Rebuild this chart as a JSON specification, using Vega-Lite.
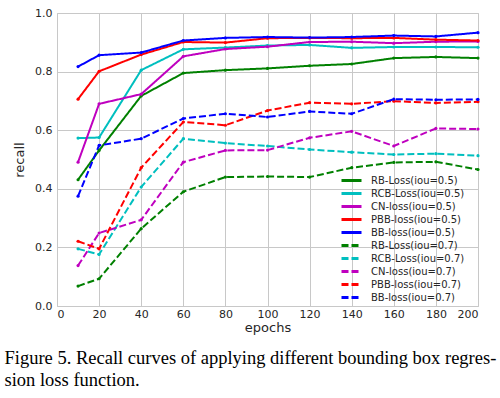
{
  "$schema": "https://vega.github.io/schema/vega-lite/v6.json",
  "width": 421,
  "height": 293,
  "autosize": "none",
  "padding": {"left": 57, "top": 13, "right": 22, "bottom": 92},
  "background": "white",
  "config": {
    "view": {"stroke": "#c8c8c8", "strokeWidth": 1},
    "font": "DejaVu Sans"
  },
  "title": {
    "text": ["Figure 5. Recall curves of applying different bounding box regres-", "sion loss function."],
    "orient": "bottom",
    "anchor": "start",
    "frame": "bounds",
    "baseline": "alphabetic",
    "font": "Liberation Serif",
    "fontSize": 18.5,
    "fontWeight": "normal",
    "color": "#000000",
    "lineHeight": 21.7,
    "offset": 30,
    "dx": -9
  },
  "data": {
    "values": [
      {"epoch": 10, "recall": 0.431, "series": "RB-Loss(iou=0.5)"},
      {"epoch": 20, "recall": 0.531, "series": "RB-Loss(iou=0.5)"},
      {"epoch": 40, "recall": 0.717, "series": "RB-Loss(iou=0.5)"},
      {"epoch": 60, "recall": 0.795, "series": "RB-Loss(iou=0.5)"},
      {"epoch": 80, "recall": 0.805, "series": "RB-Loss(iou=0.5)"},
      {"epoch": 100, "recall": 0.811, "series": "RB-Loss(iou=0.5)"},
      {"epoch": 120, "recall": 0.82, "series": "RB-Loss(iou=0.5)"},
      {"epoch": 140, "recall": 0.826, "series": "RB-Loss(iou=0.5)"},
      {"epoch": 160, "recall": 0.846, "series": "RB-Loss(iou=0.5)"},
      {"epoch": 180, "recall": 0.85, "series": "RB-Loss(iou=0.5)"},
      {"epoch": 200, "recall": 0.846, "series": "RB-Loss(iou=0.5)"},

      {"epoch": 10, "recall": 0.573, "series": "RCB-Loss(iou=0.5)"},
      {"epoch": 20, "recall": 0.575, "series": "RCB-Loss(iou=0.5)"},
      {"epoch": 40, "recall": 0.805, "series": "RCB-Loss(iou=0.5)"},
      {"epoch": 60, "recall": 0.876, "series": "RCB-Loss(iou=0.5)"},
      {"epoch": 80, "recall": 0.882, "series": "RCB-Loss(iou=0.5)"},
      {"epoch": 100, "recall": 0.889, "series": "RCB-Loss(iou=0.5)"},
      {"epoch": 120, "recall": 0.891, "series": "RCB-Loss(iou=0.5)"},
      {"epoch": 140, "recall": 0.881, "series": "RCB-Loss(iou=0.5)"},
      {"epoch": 160, "recall": 0.884, "series": "RCB-Loss(iou=0.5)"},
      {"epoch": 180, "recall": 0.884, "series": "RCB-Loss(iou=0.5)"},
      {"epoch": 200, "recall": 0.883, "series": "RCB-Loss(iou=0.5)"},

      {"epoch": 10, "recall": 0.491, "series": "CN-loss(iou=0.5)"},
      {"epoch": 20, "recall": 0.69, "series": "CN-loss(iou=0.5)"},
      {"epoch": 40, "recall": 0.723, "series": "CN-loss(iou=0.5)"},
      {"epoch": 60, "recall": 0.852, "series": "CN-loss(iou=0.5)"},
      {"epoch": 80, "recall": 0.877, "series": "CN-loss(iou=0.5)"},
      {"epoch": 100, "recall": 0.885, "series": "CN-loss(iou=0.5)"},
      {"epoch": 120, "recall": 0.901, "series": "CN-loss(iou=0.5)"},
      {"epoch": 140, "recall": 0.902, "series": "CN-loss(iou=0.5)"},
      {"epoch": 160, "recall": 0.897, "series": "CN-loss(iou=0.5)"},
      {"epoch": 180, "recall": 0.902, "series": "CN-loss(iou=0.5)"},
      {"epoch": 200, "recall": 0.903, "series": "CN-loss(iou=0.5)"},

      {"epoch": 10, "recall": 0.706, "series": "PBB-loss(iou=0.5)"},
      {"epoch": 20, "recall": 0.801, "series": "PBB-loss(iou=0.5)"},
      {"epoch": 40, "recall": 0.858, "series": "PBB-loss(iou=0.5)"},
      {"epoch": 60, "recall": 0.901, "series": "PBB-loss(iou=0.5)"},
      {"epoch": 80, "recall": 0.899, "series": "PBB-loss(iou=0.5)"},
      {"epoch": 100, "recall": 0.914, "series": "PBB-loss(iou=0.5)"},
      {"epoch": 120, "recall": 0.915, "series": "PBB-loss(iou=0.5)"},
      {"epoch": 140, "recall": 0.914, "series": "PBB-loss(iou=0.5)"},
      {"epoch": 160, "recall": 0.915, "series": "PBB-loss(iou=0.5)"},
      {"epoch": 180, "recall": 0.909, "series": "PBB-loss(iou=0.5)"},
      {"epoch": 200, "recall": 0.906, "series": "PBB-loss(iou=0.5)"},

      {"epoch": 10, "recall": 0.817, "series": "BB-loss(iou=0.5)"},
      {"epoch": 20, "recall": 0.856, "series": "BB-loss(iou=0.5)"},
      {"epoch": 40, "recall": 0.865, "series": "BB-loss(iou=0.5)"},
      {"epoch": 60, "recall": 0.906, "series": "BB-loss(iou=0.5)"},
      {"epoch": 80, "recall": 0.915, "series": "BB-loss(iou=0.5)"},
      {"epoch": 100, "recall": 0.918, "series": "BB-loss(iou=0.5)"},
      {"epoch": 120, "recall": 0.916, "series": "BB-loss(iou=0.5)"},
      {"epoch": 140, "recall": 0.918, "series": "BB-loss(iou=0.5)"},
      {"epoch": 160, "recall": 0.923, "series": "BB-loss(iou=0.5)"},
      {"epoch": 180, "recall": 0.92, "series": "BB-loss(iou=0.5)"},
      {"epoch": 200, "recall": 0.933, "series": "BB-loss(iou=0.5)"},

      {"epoch": 10, "recall": 0.068, "series": "RB-Loss(iou=0.7)"},
      {"epoch": 20, "recall": 0.093, "series": "RB-Loss(iou=0.7)"},
      {"epoch": 40, "recall": 0.264, "series": "RB-Loss(iou=0.7)"},
      {"epoch": 60, "recall": 0.39, "series": "RB-Loss(iou=0.7)"},
      {"epoch": 80, "recall": 0.44, "series": "RB-Loss(iou=0.7)"},
      {"epoch": 100, "recall": 0.442, "series": "RB-Loss(iou=0.7)"},
      {"epoch": 120, "recall": 0.44, "series": "RB-Loss(iou=0.7)"},
      {"epoch": 140, "recall": 0.472, "series": "RB-Loss(iou=0.7)"},
      {"epoch": 160, "recall": 0.49, "series": "RB-Loss(iou=0.7)"},
      {"epoch": 180, "recall": 0.492, "series": "RB-Loss(iou=0.7)"},
      {"epoch": 200, "recall": 0.466, "series": "RB-Loss(iou=0.7)"},

      {"epoch": 10, "recall": 0.195, "series": "RCB-Loss(iou=0.7)"},
      {"epoch": 20, "recall": 0.176, "series": "RCB-Loss(iou=0.7)"},
      {"epoch": 40, "recall": 0.406, "series": "RCB-Loss(iou=0.7)"},
      {"epoch": 60, "recall": 0.571, "series": "RCB-Loss(iou=0.7)"},
      {"epoch": 80, "recall": 0.556, "series": "RCB-Loss(iou=0.7)"},
      {"epoch": 100, "recall": 0.546, "series": "RCB-Loss(iou=0.7)"},
      {"epoch": 120, "recall": 0.534, "series": "RCB-Loss(iou=0.7)"},
      {"epoch": 140, "recall": 0.525, "series": "RCB-Loss(iou=0.7)"},
      {"epoch": 160, "recall": 0.517, "series": "RCB-Loss(iou=0.7)"},
      {"epoch": 180, "recall": 0.52, "series": "RCB-Loss(iou=0.7)"},
      {"epoch": 200, "recall": 0.513, "series": "RCB-Loss(iou=0.7)"},

      {"epoch": 10, "recall": 0.138, "series": "CN-loss(iou=0.7)"},
      {"epoch": 20, "recall": 0.249, "series": "CN-loss(iou=0.7)"},
      {"epoch": 40, "recall": 0.294, "series": "CN-loss(iou=0.7)"},
      {"epoch": 60, "recall": 0.491, "series": "CN-loss(iou=0.7)"},
      {"epoch": 80, "recall": 0.531, "series": "CN-loss(iou=0.7)"},
      {"epoch": 100, "recall": 0.532, "series": "CN-loss(iou=0.7)"},
      {"epoch": 120, "recall": 0.574, "series": "CN-loss(iou=0.7)"},
      {"epoch": 140, "recall": 0.596, "series": "CN-loss(iou=0.7)"},
      {"epoch": 160, "recall": 0.546, "series": "CN-loss(iou=0.7)"},
      {"epoch": 180, "recall": 0.606, "series": "CN-loss(iou=0.7)"},
      {"epoch": 200, "recall": 0.604, "series": "CN-loss(iou=0.7)"},

      {"epoch": 10, "recall": 0.221, "series": "PBB-loss(iou=0.7)"},
      {"epoch": 20, "recall": 0.195, "series": "PBB-loss(iou=0.7)"},
      {"epoch": 40, "recall": 0.472, "series": "PBB-loss(iou=0.7)"},
      {"epoch": 60, "recall": 0.628, "series": "PBB-loss(iou=0.7)"},
      {"epoch": 80, "recall": 0.617, "series": "PBB-loss(iou=0.7)"},
      {"epoch": 100, "recall": 0.667, "series": "PBB-loss(iou=0.7)"},
      {"epoch": 120, "recall": 0.694, "series": "PBB-loss(iou=0.7)"},
      {"epoch": 140, "recall": 0.69, "series": "PBB-loss(iou=0.7)"},
      {"epoch": 160, "recall": 0.699, "series": "PBB-loss(iou=0.7)"},
      {"epoch": 180, "recall": 0.693, "series": "PBB-loss(iou=0.7)"},
      {"epoch": 200, "recall": 0.697, "series": "PBB-loss(iou=0.7)"},

      {"epoch": 10, "recall": 0.375, "series": "BB-loss(iou=0.7)"},
      {"epoch": 20, "recall": 0.548, "series": "BB-loss(iou=0.7)"},
      {"epoch": 40, "recall": 0.571, "series": "BB-loss(iou=0.7)"},
      {"epoch": 60, "recall": 0.64, "series": "BB-loss(iou=0.7)"},
      {"epoch": 80, "recall": 0.656, "series": "BB-loss(iou=0.7)"},
      {"epoch": 100, "recall": 0.645, "series": "BB-loss(iou=0.7)"},
      {"epoch": 120, "recall": 0.664, "series": "BB-loss(iou=0.7)"},
      {"epoch": 140, "recall": 0.656, "series": "BB-loss(iou=0.7)"},
      {"epoch": 160, "recall": 0.706, "series": "BB-loss(iou=0.7)"},
      {"epoch": 180, "recall": 0.704, "series": "BB-loss(iou=0.7)"},
      {"epoch": 200, "recall": 0.705, "series": "BB-loss(iou=0.7)"}
    ]
  },
  "mark": {"type": "line", "strokeWidth": 2, "point": {"filled": true, "size": 10}},
  "encoding": {
    "x": {
      "field": "epoch", "type": "quantitative",
      "scale": {"domain": [0, 200], "nice": false},
      "axis": {
        "values": [0, 20, 40, 60, 80, 100, 120, 140, 160, 180, 200],
        "title": "epochs", "titleFontSize": 13, "titleFontWeight": "normal", "titleColor": "#262626", "titlePadding": 2,
        "labelFontSize": 11, "labelColor": "#262626", "labelPadding": 2,
        "ticks": false, "domain": false, "gridColor": "#c8c8c8", "gridOpacity": 1
      }
    },
    "y": {
      "field": "recall", "type": "quantitative",
      "scale": {"domain": [0, 1], "nice": false},
      "axis": {
        "values": [0, 0.2, 0.4, 0.6, 0.8, 1.0], "format": ".1f",
        "title": "recall", "titleFontSize": 13, "titleFontWeight": "normal", "titleColor": "#262626", "titlePadding": 8,
        "labelFontSize": 11, "labelColor": "#262626", "labelPadding": 5,
        "ticks": false, "domain": false, "gridColor": "#c8c8c8", "gridOpacity": 1
      }
    },
    "color": {
      "field": "series", "type": "nominal", "title": null,
      "scale": {
        "domain": ["RB-Loss(iou=0.5)", "RCB-Loss(iou=0.5)", "CN-loss(iou=0.5)", "PBB-loss(iou=0.5)", "BB-loss(iou=0.5)", "RB-Loss(iou=0.7)", "RCB-Loss(iou=0.7)", "CN-loss(iou=0.7)", "PBB-loss(iou=0.7)", "BB-loss(iou=0.7)"],
        "range": ["#008000", "#00bfbf", "#bf00bf", "#ff0000", "#0000ff", "#008000", "#00bfbf", "#bf00bf", "#ff0000", "#0000ff"]
      },
      "legend": {
        "orient": "none", "legendX": 288, "legendY": 161,
        "symbolType": "M-2,0H2", "symbolSize": 100, "symbolStrokeWidth": 3,
        "labelFontSize": 10, "labelColor": "#262626", "labelOffset": 13,
        "rowPadding": 0, "padding": 0
      }
    },
    "strokeDash": {
      "field": "series", "type": "nominal", "title": null,
      "scale": {
        "domain": ["RB-Loss(iou=0.5)", "RCB-Loss(iou=0.5)", "CN-loss(iou=0.5)", "PBB-loss(iou=0.5)", "BB-loss(iou=0.5)", "RB-Loss(iou=0.7)", "RCB-Loss(iou=0.7)", "CN-loss(iou=0.7)", "PBB-loss(iou=0.7)", "BB-loss(iou=0.7)"],
        "range": [[1, 0], [1, 0], [1, 0], [1, 0], [1, 0], [7, 3], [7, 3], [7, 3], [7, 3], [7, 3]]
      }
    }
  }
}
